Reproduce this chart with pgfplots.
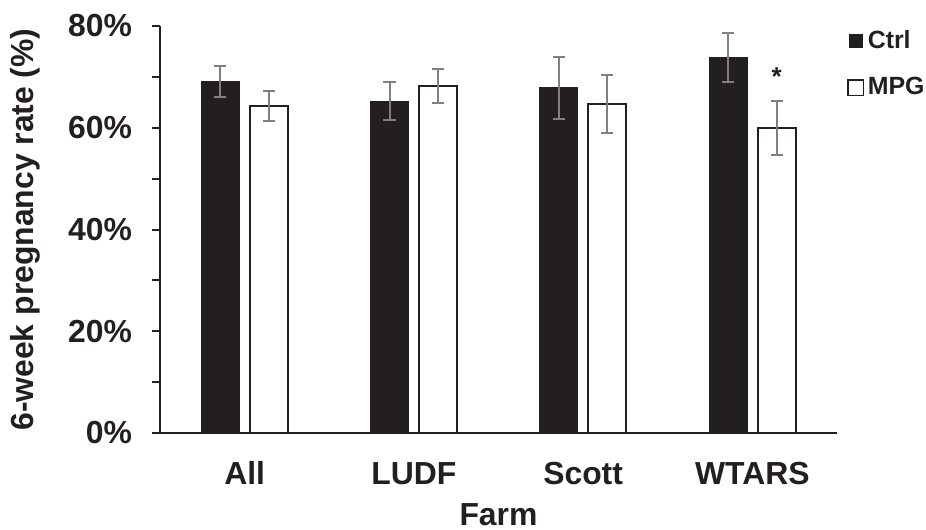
\documentclass[border=0pt]{standalone}
\usepackage{pgfplots}
\pgfplotsset{compat=1.18}
\usepackage{fontspec}
\setmainfont{Liberation Sans}
\definecolor{barblack}{HTML}{231F20}
\definecolor{errgray}{HTML}{808080}
\begin{document}
\begin{tikzpicture}
\path[use as bounding box] (-80bp,-48.5bp) rectangle (383bp,216.5bp);
\begin{axis}[
  at={(0,0)}, anchor=south west,
  scale only axis, width=338.5bp, height=203.5bp,
  ybar, bar width=0.2245,
  xmin=-0.5, xmax=3.5, ymin=0, ymax=80,
  axis lines*=left,
  axis line style={barblack, line width=1bp},
  xtick={0,1,2,3},
  xticklabels={All,LUDF,Scott,WTARS},
  xtick style={draw=none},
  ytick={0,20,40,60,80},
  yticklabels={0\%,20\%,40\%,60\%,80\%},
  minor ytick={10,30,50,70},
  tick align=outside,
  major tick length=4bp, minor tick length=4bp,
  ytick style={barblack, line width=1bp},
  minor tick style={barblack, line width=1bp},
  tick label style={font=\fontsize{16}{19}\selectfont\bfseries, text=barblack},
  yticklabel style={xshift=-6.5bp},
  xticklabel style={yshift=-6bp, text height=12bp, text depth=2bp},
  every axis y label/.style={at={(rel axis cs:0,0.5)}, xshift=-67.5bp, rotate=90, anchor=center, font=\fontsize{16}{19}\selectfont\bfseries, text=barblack},
  every axis x label/.style={at={(rel axis cs:0.5,0)}, yshift=-41bp, anchor=center, font=\fontsize{16}{19}\selectfont\bfseries, text=barblack},
  ylabel={6-week pregnancy rate (\%)},
  xlabel={Farm},
  legend style={at={(rel axis cs:1,1)}, anchor=north west, xshift=5bp, yshift=0bp, draw=none, fill=none,
    font=\fontsize{12.5}{15}\selectfont\bfseries, text=barblack, row sep=9bp,
    legend cell align=left, inner sep=0pt},
  clip=false,
]
\addplot[bar shift=-0.144, fill=barblack, draw=barblack,
  legend image code/.code={\draw[fill=barblack,draw=barblack,line width=0.5bp] (-1.5bp,-3.2bp) rectangle (4.9bp,3.2bp);},
  error bars/.cd, y dir=both, y explicit,
  error bar style={errgray, line width=1bp},
  error mark options={rotate=90, errgray, mark size=3bp, line width=1bp}]
coordinates {(0,69.1) +- (0,3.0) (1,65.2) +- (0,3.7) (2,67.9) +- (0,6.1) (3,73.8) +- (0,4.85)};
\addlegendentry{Ctrl}
\addplot[bar shift=0.144, fill=white, draw=barblack, line width=1bp,
  legend image code/.code={\draw[fill=white,draw=barblack,line width=0.6bp] (-2.5bp,-3.8bp) rectangle (5.1bp,3.8bp);},
  error bars/.cd, y dir=both, y explicit,
  error bar style={errgray, line width=1bp},
  error mark options={rotate=90, errgray, mark size=3bp, line width=1bp}]
coordinates {(0,64.3) +- (0,2.9) (1,68.2) +- (0,3.3) (2,64.6) +- (0,5.7) (3,60.0) +- (0,5.3)};
\addlegendentry{MPG}
\node[font=\fontsize{13}{15}\selectfont\bfseries, text=barblack] at (axis cs:3.144,70) {*};
\end{axis}
\end{tikzpicture}
\end{document}
